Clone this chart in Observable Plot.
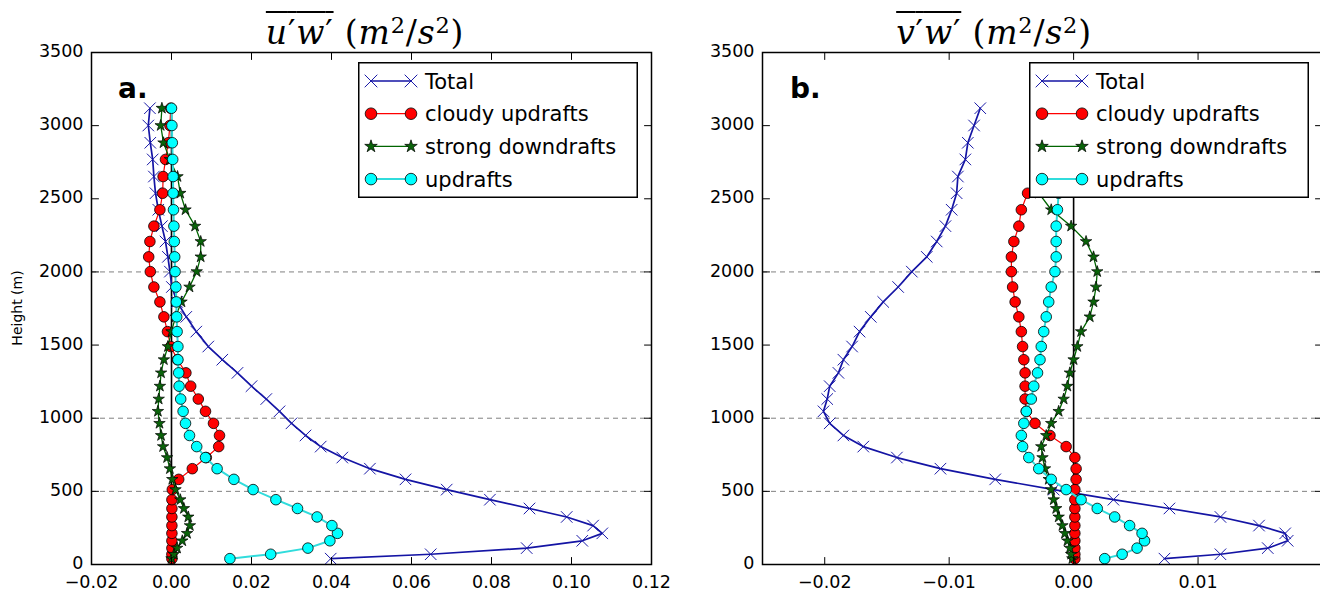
<!DOCTYPE html>
<html><head><meta charset="utf-8">
<script src="https://cdn.jsdelivr.net/npm/d3@7"></script>
<script src="https://cdn.jsdelivr.net/npm/@observablehq/plot@0.6"></script>
<style>
body{margin:0;background:#fff;}
#wrap{position:relative;width:1320px;height:594px;overflow:hidden;background:#fff;font-family:"DejaVu Sans",sans-serif;color:#000;}
.panel{position:absolute;top:0;}
.panel svg{max-width:none !important;}
.title{position:absolute;top:16px;font-family:"DejaVu Serif",serif;font-size:33px;line-height:34px;white-space:nowrap;transform:translateX(-50%);letter-spacing:0.8px;}
.title .ov{text-decoration:overline;text-decoration-thickness:2px;}
.title sup{font-size:0.68em;vertical-align:0.5em;line-height:0;}
.plabel{position:absolute;top:72px;font-family:"DejaVu Sans",sans-serif;font-weight:bold;font-size:28px;line-height:34px;}
.ylab{position:absolute;left:17px;top:308px;font-size:14px;transform:translate(-50%,-50%) rotate(-90deg);white-space:nowrap;}
.legend{position:absolute;}
</style></head>
<body><div id="wrap"></div>
<script>
// ---------- data ----------
const levels = [40, 70, 112, 162, 213, 266, 325, 383, 443, 512, 582, 655, 731, 806, 882, 965, 1047, 1131, 1219, 1310, 1400, 1490, 1592, 1693, 1795, 1897, 2002, 2103, 2208, 2313, 2425, 2538, 2652, 2769, 2883, 3001, 3119];

const uwTotal = [0.0398, 0.0648, 0.0888, 0.1027, 0.1077, 0.1054, 0.0988, 0.0895, 0.0796, 0.0688, 0.0585, 0.0496, 0.0427, 0.0373, 0.0335, 0.0300, 0.0270, 0.0237, 0.0200, 0.0165, 0.0127, 0.0092, 0.0062, 0.0037, 0.0014, 0.0001, -0.0004, -0.0009, -0.0015, -0.0024, -0.0033, -0.0040, -0.0044, -0.0047, -0.0053, -0.0058, -0.0054];
const uwCloudy = [0.0001, 0.0001, 0.0001, 0.0001, 0.0001, 0.0001, 0.0001, 0.0001, 0.0001, 0.0002, 0.0018, 0.0052, 0.0087, 0.0118, 0.0120, 0.0105, 0.0085, 0.0067, 0.0048, 0.0036, 0.0015, -0.0002, -0.0010, -0.0019, -0.0029, -0.0044, -0.0053, -0.0057, -0.0054, -0.0044, -0.0029, -0.0022, -0.0021, -0.0015, -0.0008, -0.0004, -0.0002];
const uwStrong = [0.0000, 0.0006, 0.0014, 0.0027, 0.0039, 0.0046, 0.0042, 0.0031, 0.0022, 0.0010, 0.0002, -0.0004, -0.0011, -0.0021, -0.0026, -0.0030, -0.0034, -0.0032, -0.0029, -0.0026, -0.0019, -0.0009, 0.0000, 0.0010, 0.0025, 0.0045, 0.0063, 0.0073, 0.0073, 0.0059, 0.0035, 0.0022, 0.0015, -0.0004, -0.0020, -0.0027, -0.0024];
const uwUp = [0.0146, 0.0248, 0.0341, 0.0396, 0.0415, 0.0401, 0.0364, 0.0315, 0.0261, 0.0204, 0.0156, 0.0114, 0.0085, 0.0063, 0.0045, 0.0035, 0.0029, 0.0023, 0.0019, 0.0018, 0.0016, 0.0016, 0.0014, 0.0013, 0.0012, 0.0011, 0.0009, 0.0008, 0.0007, 0.0006, 0.0005, 0.0004, 0.0004, 0.0003, 0.0002, 0.0001, 0.0000];

const vwTotal = [0.0073, 0.0118, 0.0156, 0.0172, 0.0170, 0.0149, 0.0118, 0.0077, 0.0032, -0.0016, -0.0063, -0.0107, -0.0142, -0.0169, -0.0185, -0.0196, -0.0201, -0.0198, -0.0196, -0.0189, -0.0185, -0.0178, -0.0172, -0.0163, -0.0153, -0.0141, -0.0130, -0.0118, -0.0110, -0.0103, -0.0098, -0.0094, -0.0093, -0.0087, -0.0085, -0.0080, -0.0075];
const vwCloudy = [0.0001, 0.0001, 0.0001, 0.0001, 0.0001, 0.0001, 0.0001, 0.0001, 0.0001, 0.0001, 0.0002, 0.0002, 0.0001, -0.0006, -0.0019, -0.0031, -0.0038, -0.0039, -0.0039, -0.0039, -0.0040, -0.0041, -0.0042, -0.0044, -0.0047, -0.0049, -0.0050, -0.0050, -0.0048, -0.0044, -0.0042, -0.0037, -0.0025, null, null, null, null];
const vwStrong = [-0.0001, -0.0002, -0.0003, -0.0005, -0.0007, -0.0009, -0.0012, -0.0014, -0.0016, -0.0018, -0.0020, -0.0023, -0.0025, -0.0026, -0.0022, -0.0018, -0.0012, -0.0008, -0.0005, -0.0003, 0.0000, 0.0003, 0.0006, 0.0013, 0.0016, 0.0018, 0.0019, 0.0016, 0.0010, -0.0002, -0.0018, -0.0028, null, null, null, null, null];
const vwUp = [0.0025, 0.0039, 0.0051, 0.0057, 0.0055, 0.0045, 0.0033, 0.0019, 0.0006, -0.0006, -0.0018, -0.0028, -0.0036, -0.0041, -0.0042, -0.0040, -0.0038, -0.0034, -0.0032, -0.0029, -0.0027, -0.0026, -0.0024, -0.0022, -0.0020, -0.0018, -0.0015, -0.0014, -0.0014, -0.0014, -0.0013, -0.0012, null, null, null, null, null];

const seriesNames = ["Total", "cloudy updrafts", "strong downdrafts", "updrafts"];
const yTicks = [0, 500, 1000, 1500, 2000, 2500, 3000, 3500];
const gridHeights = [500, 1000, 2000];
const xTicksA = [-0.02, 0.00, 0.02, 0.04, 0.06, 0.08, 0.10, 0.12];
const xTicksB = [-0.02, -0.01, 0.00, 0.01];
const xDomainA = [-0.02, 0.12];
const xDomainB = [-0.025, 0.02];
const panelLabels = ["a.", "b."];
const titleVars = ["u", "v"];
const yLabel = "Height (m)";

// ---------- styles ----------
const styles = [
  {line: "#1414a4", lw: 1.7, symbol: "times", fill: "none", stroke: "#1a1aa8", r: 5.3, sw: 1},
  {line: "#ff0000", lw: 1.2, symbol: "circle", fill: "#ff0000", stroke: "#000", r: 5.3, sw: 0.8},
  {line: "#006400", lw: 1.3, symbol: "star", fill: "#0a640a", stroke: "#000", r: 3.6, sw: 0.7},
  {line: "#30dcdc", lw: 2, symbol: "circle", fill: "#00ffff", stroke: "#000", r: 5.3, sw: 0.8}
];

const tickShape = {draw(ctx, l) { ctx.moveTo(0, 0); ctx.lineTo(0, -l); }};
const fmtX = d3.format(".2f");

function toRows(vals) {
  return levels.map((h, i) => ({h, v: vals[i]})).filter(d => d.v != null);
}

function makePanel({width, marginLeft, marginRight, xDomain, xTicks, seriesVals}) {
  const marks = [];
  marks.push(Plot.ruleY(gridHeights, {stroke: "#808080", strokeWidth: 1, strokeDasharray: "5,4"}));
  marks.push(Plot.ruleX([0], {y1: 0, y2: d3.max(levels), stroke: "#000", strokeWidth: 1.6}));
  seriesVals.forEach((vals, i) => {
    const s = styles[i];
    const rows = toRows(vals);
    marks.push(Plot.line(rows, {x: "v", y: "h", stroke: s.line, strokeWidth: s.lw, curve: "linear"}));
    marks.push(Plot.dot(rows, {x: "v", y: "h", symbol: s.symbol, r: s.r, fill: s.fill, stroke: s.stroke, strokeWidth: s.sw}));
  });
  const tl = 7;
  marks.push(Plot.vector(xTicks, {x: d => d, frameAnchor: "bottom", length: tl, rotate: 0, anchor: "start", shape: tickShape, stroke: "#000", strokeWidth: 1}));
  marks.push(Plot.vector(xTicks, {x: d => d, frameAnchor: "top", length: tl, rotate: 180, anchor: "start", shape: tickShape, stroke: "#000", strokeWidth: 1}));
  marks.push(Plot.vector(yTicks, {y: d => d, frameAnchor: "left", length: tl, rotate: 90, anchor: "start", shape: tickShape, stroke: "#000", strokeWidth: 1}));
  marks.push(Plot.vector(yTicks, {y: d => d, frameAnchor: "right", length: tl, rotate: -90, anchor: "start", shape: tickShape, stroke: "#000", strokeWidth: 1}));
  marks.push(Plot.axisX({ticks: xTicks, anchor: "bottom", tickSize: 0, tickPadding: 11, tickFormat: fmtX, label: null, fontSize: 17.5}));
  marks.push(Plot.axisY({ticks: yTicks, anchor: "left", tickSize: 0, tickPadding: 8, tickFormat: d => String(d), label: null, fontSize: 17.5, dy: -1}));
  marks.push(Plot.frame({stroke: "#000", strokeWidth: 1.5}));
  return Plot.plot({
    width, height: 594,
    marginLeft, marginRight, marginTop: 52, marginBottom: 30,
    x: {domain: xDomain, axis: null},
    y: {domain: [0, 3500], axis: null},
    style: {fontFamily: "DejaVu Sans, sans-serif", fontSize: "17.5px", color: "#000", background: "transparent", maxWidth: "none", overflow: "visible"},
    marks
  });
}

function makeLegend(left, top) {
  const w = 280, h = 136;
  const svg = d3.create("svg").attr("class", "legend").attr("width", w).attr("height", h)
    .style("left", left + "px").style("top", top + "px");
  svg.append("rect").attr("x", 0.75).attr("y", 0.75).attr("width", w - 1.5).attr("height", h - 1.5)
    .attr("fill", "#fff").attr("stroke", "#000").attr("stroke-width", 1.5);
  const symMap = {times: d3.symbolTimes, circle: d3.symbolCircle, star: d3.symbolStar};
  seriesNames.forEach((name, i) => {
    const s = styles[i];
    const cy = 19 + i * 32.7;
    const g = svg.append("g");
    g.append("line").attr("x1", 13).attr("x2", 53).attr("y1", cy).attr("y2", cy)
      .attr("stroke", s.line).attr("stroke-width", s.lw);
    [13, 53].forEach(cx => {
      g.append("path").attr("transform", `translate(${cx},${cy})`)
        .attr("d", d3.symbol(symMap[s.symbol], Math.PI * s.r * s.r * 1.2)())
        .attr("fill", s.fill).attr("stroke", s.stroke).attr("stroke-width", s.sw);
    });
    g.append("text").attr("x", 67).attr("y", cy + 7.5).text(name)
      .attr("font-family", "DejaVu Sans, sans-serif").attr("font-size", 21).attr("fill", "#000");
  });
  return svg.node();
}

const wrap = document.getElementById("wrap");

const pA = document.createElement("div"); pA.className = "panel"; pA.style.left = "0px";
pA.appendChild(makePanel({width: 660, marginLeft: 91, marginRight: 9, xDomain: xDomainA, xTicks: xTicksA, seriesVals: [uwTotal, uwCloudy, uwStrong, uwUp]}));
wrap.appendChild(pA);

const pB = document.createElement("div"); pB.className = "panel"; pB.style.left = "660px";
pB.appendChild(makePanel({width: 662, marginLeft: 102, marginRight: 0, xDomain: xDomainB, xTicks: xTicksB, seriesVals: [vwTotal, vwCloudy, vwStrong, vwUp]}));
wrap.appendChild(pB);

wrap.appendChild(makeLegend(358, 62));
wrap.appendChild(makeLegend(1029, 62));

[[365, 0], [994, 1]].forEach(([cx, i]) => {
  const t = document.createElement("div");
  t.className = "title";
  t.style.left = cx + "px";
  const v = titleVars[i];
  t.innerHTML = `<span class="ov"><i>${v}</i>′<i>w</i>′</span> (<i>m</i><sup>2</sup>/<i>s</i><sup>2</sup>)`;
  wrap.appendChild(t);
});

[[118, 0], [790, 1]].forEach(([x, i]) => {
  const l = document.createElement("div");
  l.className = "plabel"; l.style.left = x + "px"; l.textContent = panelLabels[i];
  wrap.appendChild(l);
});

const yl = document.createElement("div"); yl.className = "ylab"; yl.textContent = yLabel;
wrap.appendChild(yl);
</script>
</body></html>
